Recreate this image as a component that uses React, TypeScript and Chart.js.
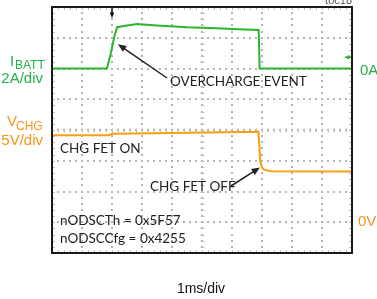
import React, { useEffect, useRef } from "react";
import { Chart, registerables } from "chart.js";

Chart.register(...registerables);

// ---- Data (time in ms, 1 ms/div) ----
const ibattTimeMs = [0, 1.83, 1.95, 2.08, 2.17, 2.5, 2.83, 3.5, 4.5, 5.5, 6.2, 6.89, 6.92, 10];
const ibattAmps = [0, 0, 0.9, 2.1, 2.69, 2.8, 2.89, 2.8, 2.68, 2.62, 2.56, 2.5, 0, 0];

const vchgTimeMs = [0, 1.9, 2.0, 4.0, 6.88, 6.91, 6.94, 7.0, 7.07, 7.3, 10];
const vchgVolts = [14.15, 14.15, 14.4, 14.5, 14.7, 12.5, 9.9, 8.9, 8.55, 8.3, 8.25];

// Scope settings: 10 horizontal divs, 8 vertical divs
const timeRangeMs = [0, 10];
const timeDivMs = 1;
const ibattRangeA = [-12, 4]; // 2A/div, 0A at 6th div from bottom
const ibattDivA = 2;
const vchgRangeV = [-5, 35]; // 5V/div, 0V at 1st div from bottom
const triggerTimeMs = 2.0;
const ibattMarkerA = 0.73;

const labels = {
  ibattMain: "I",
  ibattSub: "BATT",
  ibattScale: "2A/div",
  vchgMain: "V",
  vchgSub: "CHG",
  vchgScale: "5V/div",
  ibattZero: "0A",
  vchgZero: "0V",
  timeScale: "1ms/div",
  figId: "toc18",
  overcharge: "OVERCHARGE EVENT",
  fetOn: "CHG FET ON",
  fetOff: "CHG FET OFF",
  reg1: "nODSCTh = 0x5F57",
  reg2: "nODSCCfg = 0x4255",
};

const GREEN = "#2bb52f";
const GREEN_TXT = "#22b14c";
const ORANGE = "#f5a00f";
const ORANGE_TXT = "#f7941d";
const NARROW = '"Liberation Sans Narrow", "Liberation Sans", Arial, sans-serif';
const ANNOT = 'Lato, "Open Sans", sans-serif';

function arrow(ctx: CanvasRenderingContext2D, x1: number, y1: number, x2: number, y2: number, color: string, head = 8) {
  const ang = Math.atan2(y2 - y1, x2 - x1);
  ctx.save();
  ctx.strokeStyle = color;
  ctx.fillStyle = color;
  ctx.lineWidth = 1.5;
  ctx.setLineDash([]);
  ctx.beginPath();
  ctx.moveTo(x1, y1);
  ctx.lineTo(x2 - Math.cos(ang) * head * 0.7, y2 - Math.sin(ang) * head * 0.7);
  ctx.stroke();
  ctx.beginPath();
  ctx.moveTo(x2, y2);
  ctx.lineTo(x2 - head * Math.cos(ang - 0.4), y2 - head * Math.sin(ang - 0.4));
  ctx.lineTo(x2 - head * Math.cos(ang + 0.4), y2 - head * Math.sin(ang + 0.4));
  ctx.closePath();
  ctx.fill();
  ctx.restore();
}

const scopePlugin = {
  id: "scope",
  beforeDatasetsDraw(chart: any) {
    const { ctx, chartArea: a, scales } = chart;
    const xs = scales.x;
    const ys = scales.y;
    ctx.save();
    ctx.setLineDash([]);
    const xDots: number[] = [];
    for (let k = 0; k <= 50; k++) xDots.push(Math.round(xs.getPixelForValue(timeRangeMs[0] + k * timeDivMs / 5)));
    const yDots: number[] = [];
    for (let k = 0; k <= 40; k++) yDots.push(Math.round(ys.getPixelForValue(ibattRangeA[0] + k * ibattDivA / 5)));
    const xMajor: number[] = [];
    for (let t = timeRangeMs[0]; t <= timeRangeMs[1] + 1e-9; t += timeDivMs) xMajor.push(Math.round(xs.getPixelForValue(t)));
    const yMajor: number[] = [];
    for (let v = ibattRangeA[0]; v <= ibattRangeA[1] + 1e-9; v += ibattDivA) yMajor.push(Math.round(ys.getPixelForValue(v)));

    // dotted grid at every division
    ctx.fillStyle = "#b4b4b4";
    xMajor.forEach((px) => yDots.forEach((py) => ctx.fillRect(px - 1, py - 1, 2, 2)));
    yMajor.forEach((py) => xDots.forEach((px) => ctx.fillRect(px - 1, py - 1, 2, 2)));

    ctx.strokeStyle = "#bcbcbc";
    ctx.lineWidth = 1;
    // minor ticks on center lines and frame edges
    const yc = Math.round(ys.getPixelForValue(-4)) + 0.5;
    const xc = Math.round(xs.getPixelForValue(5)) + 0.5;
    ctx.beginPath();
    xDots.forEach((p) => {
      const px = p + 0.5;
      ctx.moveTo(px, yc - 2);
      ctx.lineTo(px, yc + 2);
      ctx.moveTo(px, a.top);
      ctx.lineTo(px, a.top + 3);
      ctx.moveTo(px, a.bottom);
      ctx.lineTo(px, a.bottom - 3);
    });
    yDots.forEach((p) => {
      const py = p + 0.5;
      ctx.moveTo(xc - 2, py);
      ctx.lineTo(xc + 2, py);
      ctx.moveTo(a.left, py);
      ctx.lineTo(a.left + 3, py);
      ctx.moveTo(a.right, py);
      ctx.lineTo(a.right - 3, py);
    });
    ctx.stroke();
    ctx.restore();
  },
  afterDraw(chart: any) {
    const { ctx, chartArea: a, scales } = chart;
    const xs = scales.x;
    const ys = scales.y;
    const y2 = scales.y2;
    ctx.save();
    ctx.setLineDash([]);
    // frame
    ctx.strokeStyle = "#1a1a1a";
    ctx.lineWidth = 2;
    ctx.strokeRect(a.left, a.top, a.right - a.left, a.bottom - a.top);

    // trigger marker (top)
    const tx = xs.getPixelForValue(triggerTimeMs);
    arrow(ctx, tx, a.top + 1, tx, a.top + 11, "#111", 6);
    // ibatt level marker (right)
    const my = ys.getPixelForValue(ibattMarkerA);
    arrow(ctx, a.right - 1, my, a.right - 8, my, GREEN, 6);

    // left labels
    ctx.textBaseline = "alphabetic";
    ctx.fillStyle = GREEN_TXT;
    ctx.textAlign = "left";
    ctx.font = `15px ${NARROW}`;
    ctx.fillText(labels.ibattMain, 10, 66);
    ctx.font = `12px ${NARROW}`;
    ctx.fillText(labels.ibattSub, 15, 69);
    ctx.font = `15px ${NARROW}`;
    ctx.textAlign = "right";
    ctx.fillText(labels.ibattScale, 43, 83);

    ctx.fillStyle = ORANGE_TXT;
    ctx.textAlign = "left";
    ctx.font = `15px ${NARROW}`;
    ctx.fillText(labels.vchgMain, 7, 126);
    ctx.font = `12px ${NARROW}`;
    ctx.fillText(labels.vchgSub, 16, 130);
    ctx.font = `15px ${NARROW}`;
    ctx.textAlign = "right";
    ctx.fillText(labels.vchgScale, 43, 145);

    // right labels
    ctx.textAlign = "left";
    ctx.fillStyle = GREEN_TXT;
    ctx.fillText(labels.ibattZero, 360, ys.getPixelForValue(0) + 6);
    ctx.fillStyle = ORANGE_TXT;
    ctx.fillText(labels.vchgZero, 358, y2.getPixelForValue(0) + 4);

    // bottom label
    ctx.fillStyle = "#111";
    ctx.textAlign = "center";
    ctx.font = `14px ${NARROW}`;
    ctx.fillText(labels.timeScale, 201, 293);

    // fig id
    ctx.fillStyle = "#555";
    ctx.textAlign = "right";
    ctx.font = `11px ${NARROW}`;
    ctx.fillText(labels.figId, 352, 4);

    // annotations
    ctx.fillStyle = "#222";
    ctx.textAlign = "left";
    ctx.font = `13.5px ${ANNOT}`;
    ctx.fillText(labels.overcharge, 170, 86);
    arrow(ctx, 167, 78, xs.getPixelForValue(2.2), ys.getPixelForValue(1.58), "#222", 9);

    ctx.fillText(labels.fetOn, 60, 153);
    ctx.fillText(labels.fetOff, 150, 191);
    arrow(ctx, 231, 186, xs.getPixelForValue(6.93), y2.getPixelForValue(8.9), "#222", 9);

    ctx.fillText(labels.reg1, 60, 225);
    ctx.fillText(labels.reg2, 60, 243);
    ctx.restore();
  },
};

export default function App() {
  const ref = useRef<HTMLCanvasElement | null>(null);
  useEffect(() => {
    if (!ref.current) return;
    const chart = new Chart(ref.current, {
      type: "line",
      data: {
        datasets: [
          {
            label: "IBATT",
            data: ibattTimeMs.map((t, i) => ({ x: t, y: ibattAmps[i] })),
            borderColor: GREEN,
            borderWidth: 2,
            pointRadius: 0,
            tension: 0,
            yAxisID: "y",
          },
          {
            label: "VCHG",
            data: vchgTimeMs.map((t, i) => ({ x: t, y: vchgVolts[i] })),
            borderColor: ORANGE,
            borderWidth: 2,
            pointRadius: 0,
            tension: 0,
            yAxisID: "y2",
          },
        ],
      },
      options: {
        responsive: false,
        animation: false,
        devicePixelRatio: 1,
        layout: { padding: { left: 52, right: 25, top: 7, bottom: 46 } },
        plugins: { legend: { display: false }, tooltip: { enabled: false } },
        scales: {
          x: {
            type: "linear",
            min: timeRangeMs[0],
            max: timeRangeMs[1],
            ticks: { display: false, stepSize: timeDivMs },
            grid: { display: false, drawTicks: false },
            border: { display: false },
            afterFit: (s: any) => { s.height = 0; },
          },
          y: {
            type: "linear",
            min: ibattRangeA[0],
            max: ibattRangeA[1],
            ticks: { display: false, stepSize: ibattDivA },
            grid: { display: false, drawTicks: false },
            border: { display: false },
            afterFit: (s: any) => { s.width = 0; },
          },
          y2: {
            type: "linear",
            display: false,
            min: vchgRangeV[0],
            max: vchgRangeV[1],
          },
        },
      },
      plugins: [scopePlugin],
    });
    return () => chart.destroy();
  }, []);
  return (
    <div style={{ position: "absolute", left: 0, top: 0, width: 377, height: 299, background: "#fff" }}>
      <canvas ref={ref} width={377} height={299} />
    </div>
  );
}
